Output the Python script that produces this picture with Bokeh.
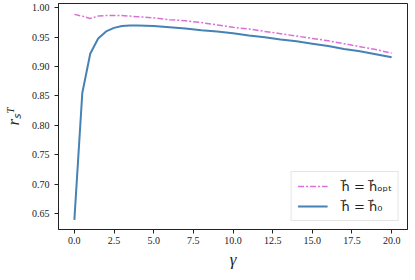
from bokeh.plotting import figure
from bokeh.models import FixedTicker, Legend, LegendItem, PrintfTickFormatter, Range1d
from bokeh.embed import file_html
from bokeh.resources import INLINE

gamma = [0, 0.5, 1, 1.5, 2, 2.5, 3, 3.5, 4, 5, 6, 7, 8, 9, 10, 11, 12, 13, 14, 15, 16, 17, 18, 19, 20]
r_opt = [0.989, 0.986, 0.982, 0.986, 0.987, 0.987, 0.987, 0.986, 0.985, 0.983, 0.980, 0.978, 0.975,
         0.971, 0.967, 0.964, 0.960, 0.956, 0.952, 0.948, 0.944, 0.939, 0.934, 0.929, 0.923]
r_0 = [0.639, 0.855, 0.922, 0.948, 0.960, 0.966, 0.969, 0.970, 0.970, 0.969, 0.967, 0.965, 0.962,
       0.960, 0.957, 0.953, 0.950, 0.946, 0.943, 0.939, 0.935, 0.930, 0.926, 0.921, 0.916]
xticks = [0, 2.5, 5, 7.5, 10, 12.5, 15, 17.5, 20]
yticks = [0.65, 0.70, 0.75, 0.80, 0.85, 0.90, 0.95, 1.00]

FONT = "Liberation Serif"
LFONT = "DejaVu Sans"

p = figure(frame_width=349, frame_height=226, output_backend="svg", toolbar_location=None,
           x_range=Range1d(-1, 21), y_range=Range1d(0.6225, 1.0075),
           min_border_left=47, min_border_right=3, min_border_top=3, min_border_bottom=30)
p.grid.visible = False
p.outline_line_color = "#222222"
p.outline_line_width = 1

for ax in (p.xaxis[0], p.yaxis[0]):
    ax.major_label_text_font = FONT
    ax.major_label_text_font_size = "10px"
    ax.major_label_text_color = "#222222"
    ax.axis_line_color = "#222222"
    ax.major_tick_line_color = "#222222"
    ax.major_tick_in = 0
    ax.major_tick_out = 4
    ax.minor_tick_line_color = None
    ax.axis_label_text_font = FONT
    ax.axis_label_text_font_style = "italic"
    ax.axis_label_text_color = "#222222"

p.xaxis.ticker = FixedTicker(ticks=xticks)
p.xaxis.formatter = PrintfTickFormatter(format="%.1f")
p.xaxis.major_label_standoff = 3
p.yaxis.ticker = FixedTicker(ticks=yticks)
p.yaxis.formatter = PrintfTickFormatter(format="%.2f")
p.xaxis.axis_label = "γ"
p.xaxis.axis_label_text_font_size = "17px"
p.xaxis.axis_label_standoff = 3
p.yaxis.axis_label = "rₛᵀ"
p.yaxis.axis_label_text_font_size = "17px"
p.yaxis.axis_label_standoff = 6

l1 = p.line(gamma, r_opt, line_color="orchid", line_width=1.5, line_dash="6 2 2 2")
l2 = p.line(gamma, r_0, line_color="steelblue", line_width=2)

legend = Legend(items=[LegendItem(label="h\u20d7 = h\u20d7ₒₚₜ", renderers=[l1]),
                       LegendItem(label="h\u20d7 = h\u20d7₀", renderers=[l2])],
                location="bottom_right")
legend.label_text_font = LFONT
legend.label_text_font_style = "normal"
legend.label_text_font_size = "13px"
legend.label_text_color = "#222222"
legend.glyph_width = 30
legend.glyph_height = 16
legend.spacing = 4
legend.padding = 6
legend.margin = 8
legend.label_standoff = 14
legend.border_line_color = "#cccccc"
legend.border_line_width = 1
legend.background_fill_alpha = 0.8
p.add_layout(legend)

open("out.html", "w").write(file_html(p, INLINE))
